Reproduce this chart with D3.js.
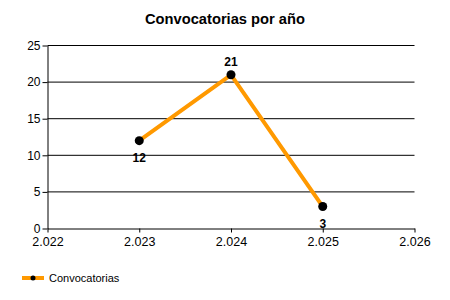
<!DOCTYPE html>
<html><head><meta charset="utf-8">
<script src="https://cdn.jsdelivr.net/npm/d3@7/dist/d3.min.js"></script>
<style>body{margin:0;background:#fff}svg{display:block;font-family:"Liberation Sans",Arial,sans-serif}</style>
</head><body>
<script>
const title = "Convocatorias por año";
const seriesName = "Convocatorias";
const years = [2.023, 2.024, 2.025];
const values = [12, 21, 3];
const xTicks = [2.022, 2.023, 2.024, 2.025, 2.026];
const xTickLabels = ["2.022", "2.023", "2.024", "2.025", "2.026"];
const yTicks = [0, 5, 10, 15, 20, 25];
const labelPos = ["below", "above", "below"];

const W = 450, H = 300;
const svg = d3.select("body").append("svg").attr("width", W).attr("height", H);
const x = d3.scaleLinear().domain([2.022, 2.026]).range([47.5, 414.5]);
const y = d3.scaleLinear().domain([0, 25]).range([228.5, 45.5]);

svg.append("text").attr("x", 225).attr("y", 24).attr("text-anchor", "middle")
  .attr("font-weight", "bold").attr("font-size", 14.7).text(title);

// gridlines
svg.append("g").selectAll("line").data(yTicks.filter(d => d > 0)).join("line")
  .attr("x1", 47.5).attr("x2", 414.5).attr("y1", d => y(d)).attr("y2", d => y(d))
  .attr("stroke", "#000").attr("stroke-width", 1);

// y axis
const ya = svg.append("g").attr("transform", "translate(47.5,0)")
  .call(d3.axisLeft(y).tickValues(yTicks).tickSize(5).tickSizeOuter(0).tickPadding(2));
ya.select(".domain").attr("stroke", "#000");
ya.selectAll("text").attr("font-size", 12).attr("font-family", "Liberation Sans, Arial, sans-serif").attr("fill", "#000");

// x axis
const xa = svg.append("g").attr("transform", "translate(0,228.5)")
  .call(d3.axisBottom(x).tickValues(xTicks).tickFormat((d, i) => xTickLabels[i]).tickSize(4).tickSizeOuter(0).tickPadding(5));
xa.selectAll("text").attr("font-size", 12.5).attr("font-family", "Liberation Sans, Arial, sans-serif").attr("fill", "#000");

const data = years.map((yr, i) => ({x: yr, v: values[i], pos: labelPos[i]}));
svg.append("path").datum(data)
  .attr("d", d3.line().x(d => x(d.x)).y(d => y(d.v)))
  .attr("fill", "none").attr("stroke", "#FF9900").attr("stroke-width", 4).attr("stroke-linejoin", "round");
svg.append("g").selectAll("circle").data(data).join("circle")
  .attr("cx", d => x(d.x)).attr("cy", d => y(d.v)).attr("r", 4.5).attr("fill", "#000");
svg.append("g").selectAll("text").data(data).join("text")
  .attr("x", d => x(d.x)).attr("y", d => d.pos === "above" ? y(d.v) - 9 : y(d.v) + 21)
  .attr("text-anchor", "middle").attr("font-weight", "bold").attr("font-size", 12).text(d => d.v);

// legend
const lg = svg.append("g");
lg.append("line").attr("x1", 22).attr("x2", 44).attr("y1", 278).attr("y2", 278).attr("stroke", "#FF9900").attr("stroke-width", 4);
lg.append("circle").attr("cx", 33).attr("cy", 278).attr("r", 2.5).attr("fill", "#000");
lg.append("text").attr("x", 49).attr("y", 282).attr("font-size", 11).text(seriesName);
</script>
</body></html>
